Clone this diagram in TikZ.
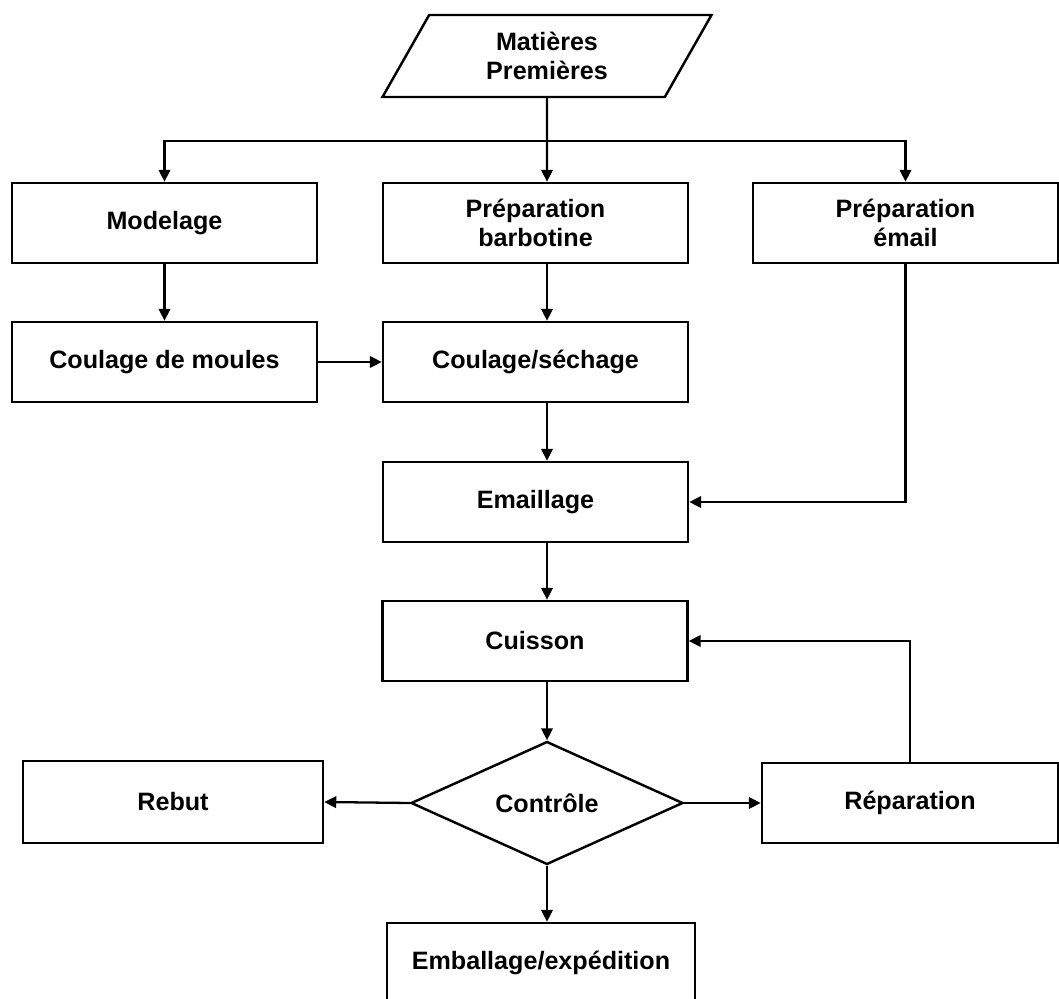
\documentclass[tikz,border=0pt]{standalone}
\usepackage{fontspec}
\setmainfont{Liberation Sans}
\usetikzlibrary{arrows.meta,positioning,shapes.geometric,calc}

\begin{document}
\begin{tikzpicture}[
    stage/.style={rectangle, draw, line width=1.4pt, minimum width=6.1cm, minimum height=1.6cm, align=center, font=\fontsize{14.3}{16.7}\selectfont\bfseries},
    test/.style={diamond, draw, line width=1.4pt, minimum width=5.44cm, minimum height=2.46cm, inner sep=0pt, font=\fontsize{14.3}{16.7}\selectfont\bfseries},
    input/.style={trapezium, trapezium left angle=52, trapezium right angle=128, trapezium stretches body, draw, line width=1.4pt, minimum width=6.58cm, minimum height=1.64cm, align=center, font=\fontsize{14.3}{16.7}\selectfont\bfseries},
    flow/.style={-{Triangle[length=2.4mm,width=2.3mm]}, line width=1.3pt}
]
    \useasboundingbox (0,0) rectangle (21.18,-19.98);

    % Raw materials
    \node[input] (raw) at (10.94,-1.12) {Matières\\Premières};
    \coordinate (split) at (10.94,-2.82);
    \coordinate (axis) at (10.94,0);

    % Preparation stages
    \node[stage] (model) at (3.29,-4.46) {Modelage};
    \node[stage] (slip) at (10.71,-4.46) {Préparation\\barbotine};
    \node[stage] (glaze) at (18.11,-4.46) {Préparation\\émail};
    \node[stage] (moulds) at (3.29,-7.24) {Coulage de moules};
    \node[stage] (cast) at (10.71,-7.24) {Coulage/séchage};

    % Production line
    \node[stage] (enamel) at (10.71,-10.04) {Emaillage};
    \node[stage] (firing) at (10.70,-12.82) {Cuisson};
    \node[test] (check) at (10.94,-16.06) {Contrôle};
    \node[stage, minimum width=6cm, minimum height=1.64cm] (reject) at (3.46,-16.04) {Rebut};
    \node[stage, minimum width=5.92cm] (repair) at (18.2,-16.06) {Réparation};
    \node[stage, minimum width=6.16cm] (ship) at (10.82,-19.26) {Emballage/expédition};

    % Connectors
    \draw[flow] (raw.south) -- (slip.north -| axis);
    \draw[flow] (split) -| (model.north);
    \draw[flow] (split) -| (glaze.north);
    \draw[flow] (model) -- (moulds);
    \draw[flow] (slip.south -| axis) -- (cast.north -| axis);
    \draw[flow] (moulds) -- (cast);
    \draw[flow] (cast.south -| axis) -- (enamel.north -| axis);
    \draw[flow] (glaze.south) |- (enamel.east);
    \draw[flow] (enamel.south -| axis) -- (firing.north -| axis);
    \draw[flow] (firing.south -| axis) -- (check.north);
    \draw[flow] (check.west) -- (reject.east);
    \draw[flow] (check.east) -- (repair.west);
    \draw[flow] (repair.north) |- (firing.east);
    \draw[flow] (check.south) -- (ship.north -| axis);
\end{tikzpicture}
\end{document}
